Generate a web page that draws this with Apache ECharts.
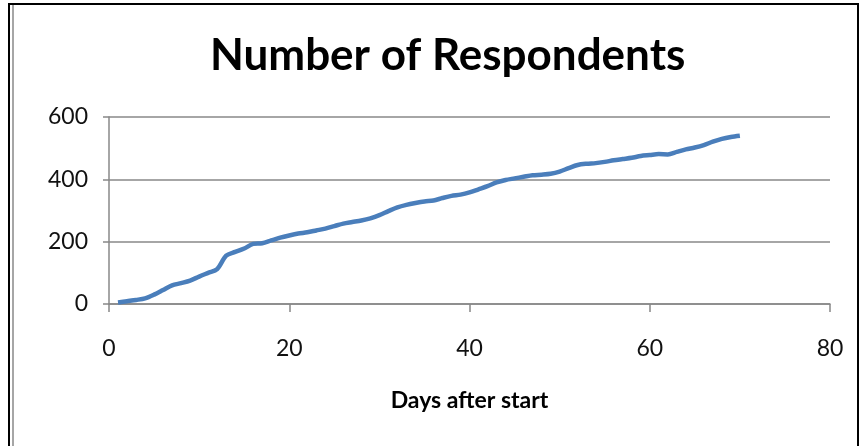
<!DOCTYPE html>
<html>
<head>
<meta charset="utf-8">
<script src="https://cdn.jsdelivr.net/npm/echarts@6/dist/echarts.min.js"></script>
<style>
  html, body { margin: 0; padding: 0; background: #fff; }
  #chart { width: 864px; height: 446px; }
</style>
</head>
<body>
<div id="chart"></div>
<script>
// days 1..70
var days = [];
for (var d = 1; d <= 70; d++) days.push(d);

// cumulative respondents
var respondents = [
  5, 9, 13, 18, 30, 45, 60, 67, 75, 88,
  100, 112, 155, 167, 178, 193, 195, 204, 213, 220,
  226, 230, 236, 242, 250, 258, 263, 268, 275, 285,
  298, 310, 318, 324, 329, 332, 340, 347, 351, 358,
  368, 378, 390, 398, 403, 408, 413, 415, 418, 425,
  436, 446, 450, 452, 456, 461, 465, 469, 475, 478,
  481, 480, 488, 496, 502, 510, 521, 530, 536, 540
];

var xTicks = [0, 20, 40, 60, 80];
var yTicks = [0, 200, 400, 600];

var FONT = 'Lato, "Open Sans", sans-serif';

var chartDom = document.getElementById('chart');
var myChart = echarts.init(chartDom);

var points = days.map(function (d, i) { return [d, respondents[i]]; });

var option = {
  backgroundColor: '#fff',
  animation: false,
  title: {
    text: 'Number of Respondents',
    left: 205,
    top: 29,
    textStyle: { fontFamily: FONT, fontWeight: 'bold', fontSize: 44, color: '#000' }
  },
  graphic: [
    {
      type: 'rect',
      shape: { x: 9, y: 4, width: 849, height: 470 },
      style: { fill: null, stroke: '#000', lineWidth: 2 },
      silent: true
    },
    {
      type: 'line',
      shape: { x1: 13, y1: 5, x2: 13, y2: 446 },
      style: { stroke: '#888', lineWidth: 1.5 },
      silent: true
    }
  ],
  grid: { left: 109, right: 34, top: 117, bottom: 142 },
  xAxis: {
    type: 'value',
    min: xTicks[0],
    max: xTicks[xTicks.length - 1],
    interval: 20,
    name: 'Days after start',
    nameLocation: 'middle',
    nameGap: 85,
    nameTextStyle: { fontFamily: FONT, fontWeight: 'bold', fontSize: 23, color: '#000' },
    axisLine: { show: true, onZero: false, lineStyle: { color: '#888', width: 1.5 } },
    axisTick: { show: true, length: 8, lineStyle: { color: '#888', width: 1.5 } },
    axisLabel: { fontFamily: FONT, fontSize: 23, color: '#111', margin: 33 },
    splitLine: { show: false }
  },
  yAxis: {
    type: 'value',
    min: yTicks[0],
    max: yTicks[yTicks.length - 1],
    interval: 200,
    axisLine: { show: true, lineStyle: { color: '#888', width: 1.5 } },
    axisTick: { show: true, length: 6, lineStyle: { color: '#888', width: 1.5 } },
    axisLabel: { fontFamily: FONT, fontSize: 23, color: '#111', margin: 21 },
    splitLine: { show: true, lineStyle: { color: '#888', width: 1.5 } }
  },
  series: [{
    type: 'line',
    data: points,
    showSymbol: false,
    smooth: 0.3,
    lineStyle: { color: '#4A7EBB', width: 4.5 },
    itemStyle: { color: '#4A7EBB' }
  }]
};

option && myChart.setOption(option);
</script>
</body>
</html>
